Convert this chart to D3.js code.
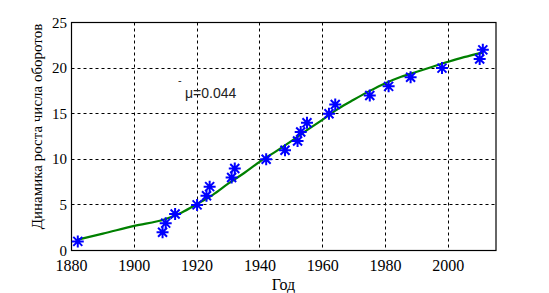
<!DOCTYPE html>
<html>
<head>
<meta charset="utf-8">
<script src="https://cdn.jsdelivr.net/npm/d3@7/dist/d3.min.js"></script>
<style>
  html, body { margin: 0; padding: 0; background: #fff; }
  svg { display: block; }
  .serif { font-family: "Liberation Serif", "Times New Roman", serif; fill: #000; }
  .sans { font-family: "Liberation Sans", Arial, sans-serif; fill: #222; }
</style>
</head>
<body>
<svg id="chart" width="549" height="293"></svg>
<script>
// ---- data ----
const pointYears  = [1882, 1909, 1910, 1913, 1920, 1923, 1924, 1931, 1932, 1942, 1948,
                     1952, 1953, 1955, 1962, 1964, 1975, 1981, 1988, 1998, 2010, 2011];
const pointValues = [1, 2, 3, 4, 5, 6, 7, 8, 9, 10, 11,
                     12, 13, 14, 15, 16, 17, 18, 19, 20, 21, 22];

const curveYears  = [1882, 1890, 1900, 1910, 1915, 1920, 1925, 1930, 1935, 1940, 1945,
                     1950, 1955, 1960, 1965, 1970, 1975, 1980, 1985, 1990, 1995, 2000, 2005, 2011];
const curveValues = [1.2, 1.85, 2.7, 3.45, 4.15, 5.1, 6.1, 7.35, 8.5, 9.75, 10.85,
                     12.0, 13.2, 14.35, 15.55, 16.55, 17.5, 18.35, 19.05, 19.6, 20.15, 20.7, 21.2, 21.7];

const xTicks = [1880, 1900, 1920, 1940, 1960, 1980, 2000];
const yTicks = [0, 5, 10, 15, 20, 25];
const xLabel = "Год";
const yLabel = "Динамика роста числа оборотов";
const annotation = "μ=0.044";

// ---- layout ----
const svg = d3.select("#chart");
const x = d3.scaleLinear().domain([1880, 2015.2]).range([71.5, 496]);
const y = d3.scaleLinear().domain([0, 25]).range([250.5, 22.5]);
const snap = v => Math.floor(v) + 0.5;

// grid
const grid = svg.append("g").attr("stroke", "#000").attr("stroke-width", 1)
  .attr("stroke-dasharray", "3,3").attr("fill", "none");
xTicks.slice(1).forEach(t => {
  grid.append("line").attr("x1", snap(x(t))).attr("x2", snap(x(t)))
    .attr("y1", y(25)).attr("y2", y(0));
});
yTicks.slice(1, -1).forEach(t => {
  grid.append("line").attr("y1", snap(y(t))).attr("y2", snap(y(t)))
    .attr("x1", x(1880)).attr("x2", x.range()[1]);
});

// frame
svg.append("rect")
  .attr("x", x.range()[0]).attr("y", y(25))
  .attr("width", x.range()[1] - x.range()[0]).attr("height", y(0) - y(25))
  .attr("fill", "none").attr("stroke", "#000").attr("stroke-width", 1.2);

// tick labels
svg.append("g").selectAll("text").data(xTicks).join("text")
  .attr("class", "serif").style("font-size", "16px")
  .attr("x", d => x(d)).attr("y", 270.5)
  .attr("text-anchor", "middle")
  .text(d => d);
svg.append("g").selectAll("text").data(yTicks).join("text")
  .attr("class", "serif").style("font-size", "15px")
  .attr("x", 67).attr("y", d => y(d) + 5)
  .attr("text-anchor", "end")
  .text(d => d);

// axis labels
svg.append("text").attr("class", "serif").style("font-size", "16px")
  .attr("x", 283.5).attr("y", 289.5)
  .attr("text-anchor", "middle").text(xLabel);
svg.append("text").attr("class", "serif").style("font-size", "15px")
  .attr("transform", "translate(42,126.5) rotate(-90)")
  .attr("text-anchor", "middle").text(yLabel);

// curve
const curveData = curveYears.map((d, i) => [d, curveValues[i]]);
svg.append("path").datum(curveData)
  .attr("d", d3.line().x(d => x(d[0])).y(d => y(d[1])).curve(d3.curveMonotoneX))
  .attr("fill", "none").attr("stroke", "#008000").attr("stroke-width", 2.2);

// star markers
const r = 6, rd = 4.5;
const starPath = `M${-r},0L${r},0M0,${-r}L0,${r}M${-rd},${-rd}L${rd},${rd}M${-rd},${rd}L${rd},${-rd}`;
svg.append("g").selectAll("path").data(pointYears.map((d, i) => [d, pointValues[i]])).join("path")
  .attr("transform", d => `translate(${x(d[0])},${y(d[1])})`)
  .attr("d", starPath)
  .attr("fill", "none").attr("stroke", "#0000ff").attr("stroke-width", 2);

// annotation
svg.append("text").attr("class", "sans").attr("x", 178).attr("y", 84)
  .style("font-size", "11px").text("-");
svg.append("text").attr("class", "sans").attr("x", 185).attr("y", 97.5)
  .style("font-size", "14px").text(annotation);
</script>
</body>
</html>
